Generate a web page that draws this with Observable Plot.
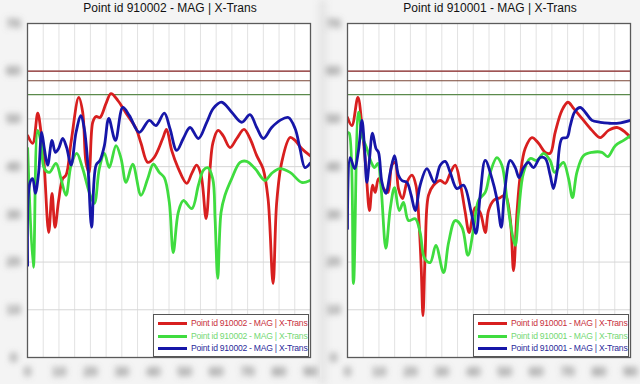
<!DOCTYPE html>
<html>
<head>
<meta charset="utf-8">
<script src="https://cdn.jsdelivr.net/npm/d3@7"></script>
<script src="https://cdn.jsdelivr.net/npm/@observablehq/plot@0.6"></script>
<style>
  body { margin:0; background:#f3f3f3; font-family:"Liberation Sans", Arial, sans-serif; }
  #root { position:relative; width:640px; height:384px; overflow:hidden; background:#f4f4f4; }
  .panel { position:absolute; top:0; width:320px; height:384px; }
  .title { position:absolute; top:0; left:20px; width:300px; text-align:center; font-size:12px; line-height:17px; color:#111; }
  .legend { position:absolute; left:153px; top:314px; width:154px; height:41px; border:1px solid #555; background:#fff; }
  .row { position:absolute; left:0; height:12px; width:154px; }
  .row .sw { position:absolute; left:4px; top:5px; width:29px; height:3px; }
  .row .lb { position:absolute; left:37px; top:0; font-size:8.6px; line-height:12px; white-space:nowrap; letter-spacing:-0.25px; }
  .divider { position:absolute; left:318px; top:0; width:9px; height:384px; background:#e6e6e6; filter:blur(3px); }
</style>
</head>
<body>
<div id="root"><div class="divider"></div></div>
<script>
// ---- data ----
const xDomain = [0, 18];
const yDomain = [0, 7];
const xGrid = d3.range(1, 18);
const yGrid = d3.range(1, 7);
const yTicks = d3.range(0, 8);
const xTicks = d3.range(0, 19, 2);
const refLevels = [6.0, 5.8, 5.51];
const refColors = ["#8a2626", "#7a4636", "#5b8a4c"];

const titles = ["Point id 910002 - MAG | X-Trans", "Point id 910001 - MAG | X-Trans"];
const seriesColors = ["#d81f1f", "#3fdc3f", "#1616a8"];
const legendTextColors = ["#c8303c", "#74d874", "#2a2a9a"];

// Panel 910002
const p2Red = [[0.01,4.65],[0.33,4.49],[0.65,5.12],[0.86,4.72],[1.05,4.09],[1.35,2.62],[1.56,3.44],[1.75,2.73],[1.98,3.29],[2.24,3.75],[2.45,3.82],[2.77,4.51],[3.26,5.45],[3.51,5.14],[3.72,4.09],[3.91,3.88],[4.15,4.93],[4.36,5.05],[4.61,5.03],[4.99,5.32],[5.31,5.53],[5.74,5.39],[6.27,5.12],[6.90,4.80],[7.22,4.49],[7.65,4.09],[8.05,4.19],[8.60,4.59],[8.84,4.78],[9.17,4.34],[9.57,3.98],[10.13,3.65],[10.45,3.86],[10.76,4.03],[11.04,3.82],[11.36,2.91],[11.61,3.96],[11.80,4.51],[12.12,4.76],[12.44,4.65],[12.88,4.40],[13.31,4.59],[13.77,4.78],[14.15,4.59],[14.58,4.23],[14.98,3.96],[15.30,3.33],[15.62,1.55],[15.85,3.25],[16.17,4.09],[16.70,4.61],[17.02,4.55],[17.44,4.38],[17.97,4.23]];
const p2Green = [[0.01,4.38],[0.37,1.89],[0.65,4.76],[0.86,4.51],[1.07,3.96],[1.39,3.88],[1.81,4.07],[2.13,3.75],[2.45,3.40],[2.77,4.03],[3.13,4.28],[3.51,3.96],[3.93,3.46],[4.25,3.23],[4.57,3.96],[4.89,4.28],[5.20,3.98],[5.63,4.44],[5.95,4.17],[6.27,3.67],[6.69,4.05],[7.22,3.40],[7.65,3.75],[8.00,4.05],[8.38,3.88],[8.70,3.77],[9.02,3.25],[9.27,2.20],[9.59,3.04],[9.91,3.29],[10.45,3.12],[10.87,3.61],[11.18,3.92],[11.46,3.98],[11.78,3.75],[11.93,2.91],[12.10,1.66],[12.31,3.04],[12.56,3.40],[12.99,3.75],[13.52,4.09],[13.94,4.11],[14.47,3.96],[15.11,3.71],[15.53,3.86],[16.06,3.96],[16.70,3.88],[17.44,3.67],[17.97,3.71]];
const p2Blue = [[0.01,1.93],[0.16,3.67],[0.33,3.75],[0.50,3.44],[0.71,3.88],[0.90,4.72],[1.07,4.38],[1.28,4.03],[1.56,4.55],[1.77,4.30],[1.98,4.38],[2.24,4.59],[2.49,4.40],[2.77,4.03],[3.09,4.72],[3.40,5.07],[3.61,4.80],[3.83,4.09],[4.08,2.73],[4.36,4.03],[4.61,4.13],[4.89,4.44],[5.17,5.01],[5.59,4.55],[6.06,5.24],[6.48,5.07],[7.11,4.72],[7.75,4.97],[8.17,4.86],[8.70,5.12],[9.06,4.80],[9.49,4.34],[9.91,4.59],[10.34,4.82],[10.87,4.59],[11.40,4.93],[11.82,5.22],[12.35,5.35],[12.99,5.14],[13.63,4.93],[14.15,5.09],[14.58,4.82],[15.00,4.59],[15.53,4.82],[16.06,4.97],[16.59,5.03],[17.02,4.80],[17.33,4.38],[17.65,3.98],[17.97,4.07]];

// Panel 910001
const p1Red = [[0.00,5.03],[0.28,4.86],[0.66,5.45],[0.92,4.86],[1.17,3.96],[1.40,3.08],[1.59,3.61],[1.76,3.46],[1.97,3.75],[2.29,3.54],[2.57,3.46],[2.82,4.03],[3.03,4.09],[3.24,3.54],[3.50,3.33],[3.78,3.67],[4.10,3.82],[4.35,3.61],[4.56,2.77],[4.69,1.87],[4.80,0.88],[4.94,2.20],[5.15,3.40],[5.47,3.61],[5.90,3.71],[6.22,3.65],[6.53,3.86],[6.85,4.03],[7.17,3.65],[7.49,3.04],[7.74,2.62],[8.12,3.14],[8.44,3.04],[8.76,2.62],[8.97,3.08],[9.29,3.29],[9.71,3.35],[10.03,3.40],[10.35,2.91],[10.56,1.82],[10.78,3.04],[10.99,3.82],[11.30,4.38],[11.73,4.61],[12.15,4.49],[12.58,4.30],[12.89,4.28],[13.21,4.72],[13.64,5.18],[14.02,5.35],[14.38,5.22],[14.91,5.01],[15.55,4.76],[16.08,4.61],[16.60,4.76],[17.14,4.82],[17.67,4.72],[18.00,4.61]];
const p1Green = [[0.00,4.72],[0.11,4.70],[0.38,1.55],[0.70,5.14],[0.92,4.65],[1.23,4.38],[1.51,4.09],[1.72,3.98],[1.93,4.07],[2.14,3.54],[2.44,2.29],[2.72,3.12],[2.99,3.56],[3.29,3.08],[3.56,3.25],[3.88,2.87],[4.31,2.91],[4.62,2.62],[4.90,2.08],[5.26,1.99],[5.62,2.35],[6.11,1.78],[6.43,2.41],[6.85,2.87],[7.28,2.73],[7.66,2.14],[8.02,2.70],[8.33,3.29],[8.76,3.46],[9.08,3.88],[9.50,4.19],[9.82,4.03],[10.14,3.33],[10.46,2.62],[10.67,2.35],[10.88,3.04],[11.20,3.88],[11.62,4.17],[12.05,4.13],[12.47,4.28],[12.89,4.13],[13.17,3.88],[13.53,4.03],[13.74,4.09],[14.06,3.75],[14.31,3.35],[14.59,3.88],[15.01,4.23],[15.55,4.30],[16.18,4.30],[16.56,4.21],[17.03,4.44],[17.56,4.55],[18.00,4.65]];
const p1Blue = [[0.00,2.70],[0.17,4.19],[0.45,3.96],[0.70,4.34],[0.92,4.97],[1.08,4.40],[1.23,3.67],[1.38,4.09],[1.59,4.70],[1.81,4.38],[1.97,4.30],[2.19,3.67],[2.44,3.44],[2.72,3.88],[2.99,4.23],[3.24,3.82],[3.46,3.71],[3.78,3.67],[4.05,3.40],[4.31,3.08],[4.62,3.61],[5.05,3.96],[5.53,3.67],[5.90,4.03],[6.22,4.11],[6.53,3.88],[6.96,3.54],[7.38,3.61],[7.87,3.04],[8.17,2.60],[8.44,3.40],[8.76,4.13],[9.19,3.75],[9.50,3.33],[9.78,2.73],[9.99,3.46],[10.35,4.13],[10.67,3.98],[10.92,3.77],[11.20,3.98],[11.51,4.09],[11.83,3.98],[12.26,4.19],[12.58,4.17],[12.89,3.82],[13.10,3.54],[13.32,3.88],[13.64,4.59],[13.96,4.61],[14.17,4.86],[14.44,5.14],[14.80,5.24],[15.12,5.14],[15.55,4.97],[16.08,4.93],[16.60,4.91],[17.24,4.91],[18.00,4.97]];

const panels = [
  {title: titles[0], series: [p2Red, p2Green, p2Blue], left: 0},
  {title: titles[1], series: [p1Red, p1Green, p1Blue], left: 320}
];

const root = document.getElementById("root");
const svgNS = "http://www.w3.org/2000/svg";

panels.forEach((p, pi) => {
  const div = document.createElement("div");
  div.className = "panel";
  div.style.left = p.left + "px";

  const chart = Plot.plot({
    width: 320, height: 384,
    marginLeft: 27, marginRight: 10, marginTop: 23, marginBottom: 27,
    x: {domain: xDomain, axis: null},
    y: {domain: yDomain, axis: null},
    style: {background: "transparent", fontFamily: "Liberation Sans, Arial, sans-serif"},
    marks: [
      Plot.frame({fill: "white", stroke: "none"}),
      Plot.gridX(xGrid, {stroke: "#e2e2e2", strokeOpacity: 1}),
      Plot.gridY(yGrid, {stroke: "#d6d6d6", strokeOpacity: 1}),
      Plot.ruleY(refLevels, {stroke: (d, i) => refColors[i], strokeWidth: 1.2}),
      ...p.series.map((s, i) => Plot.line(s, {
        x: d => d[0], y: d => d[1], curve: "catmull-rom", clip: true,
        stroke: seriesColors[i], strokeWidth: 2.8, strokeLinejoin: "round"
      })),
      Plot.text(yTicks, {x: 0, y: d => d, text: d => String(d * 10), dx: -14, fill: "#7a7a7a", fontSize: 13, fontWeight: "bold"}),
      Plot.text(xTicks, {x: d => d, y: 0, text: d => String(d * 5), dy: 14, fill: "#7a7a7a", fontSize: 13, fontWeight: "bold"}),
      Plot.frame({stroke: "#5a5a5a", strokeWidth: 1.3})
    ]
  });
  // blur filter for the (illegible) tick labels
  const defs = document.createElementNS(svgNS, "defs");
  const filter = document.createElementNS(svgNS, "filter");
  const fid = "tickblur" + pi;
  filter.setAttribute("id", fid);
  filter.setAttribute("x", "-80%"); filter.setAttribute("y", "-80%");
  filter.setAttribute("width", "260%"); filter.setAttribute("height", "260%");
  const fe = document.createElementNS(svgNS, "feGaussianBlur");
  fe.setAttribute("stdDeviation", "3.2");
  filter.appendChild(fe);
  defs.appendChild(filter);
  chart.insertBefore(defs, chart.firstChild);
  chart.querySelectorAll('g[aria-label="text"] text').forEach(g => g.setAttribute("filter", `url(#${fid})`));
  div.appendChild(chart);

  const t = document.createElement("div");
  t.className = "title";
  t.textContent = p.title;
  div.appendChild(t);

  const lg = document.createElement("div");
  lg.className = "legend";
  seriesColors.forEach((c, i) => {
    const row = document.createElement("div");
    row.className = "row";
    row.style.top = (2 + i * 12.5) + "px";
    const sw = document.createElement("div");
    sw.className = "sw";
    sw.style.background = c;
    const lb = document.createElement("div");
    lb.className = "lb";
    lb.style.color = legendTextColors[i];
    lb.textContent = p.title;
    row.appendChild(sw); row.appendChild(lb);
    lg.appendChild(row);
  });
  div.appendChild(lg);
  root.appendChild(div);
});
</script>
</body>
</html>
